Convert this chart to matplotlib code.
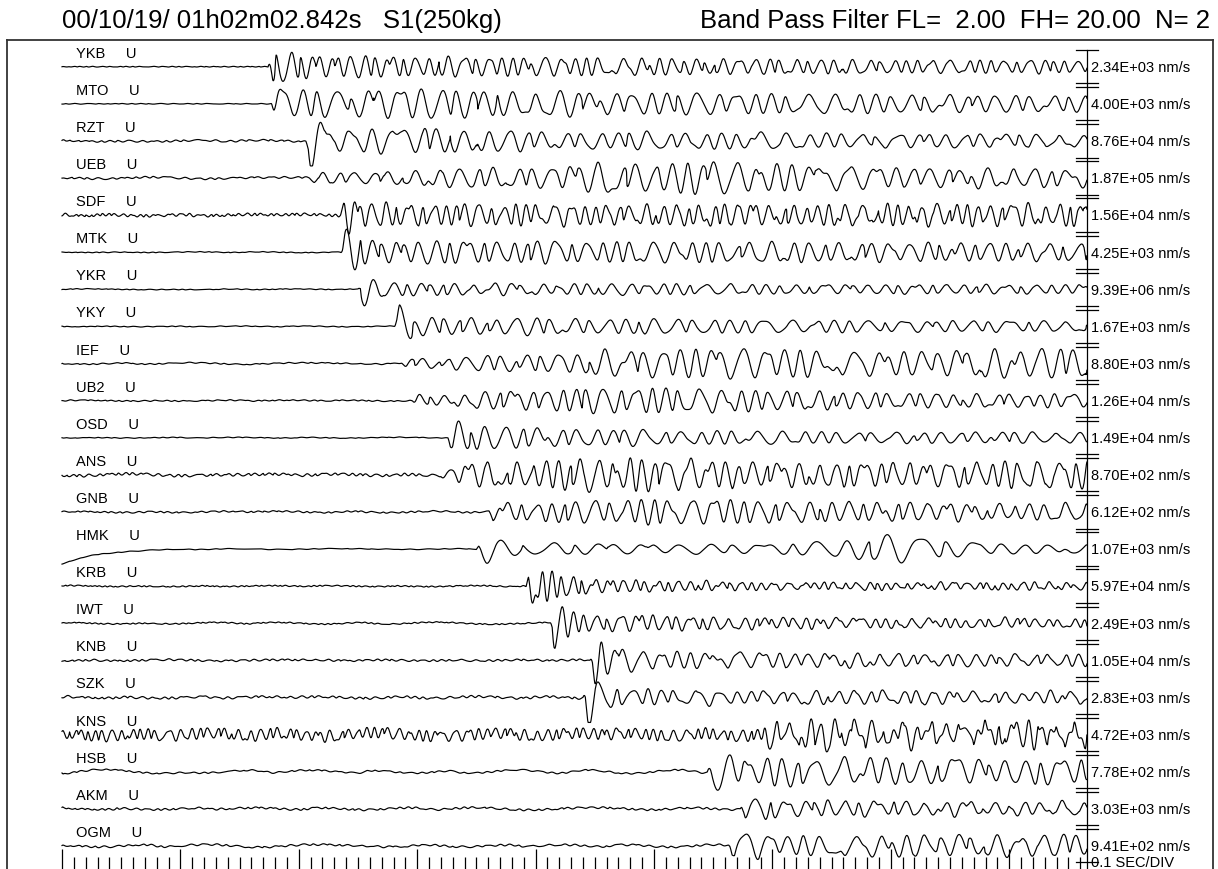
import numpy as np
import matplotlib
matplotlib.use("Agg")
import matplotlib.pyplot as plt

plt.rcParams['font.family'] = ['Liberation Sans', 'DejaVu Sans']

# stations, top to bottom
stations = ['YKB', 'MTO', 'RZT', 'UEB', 'SDF', 'MTK', 'YKR', 'YKY', 'IEF', 'UB2', 'OSD',
            'ANS', 'GNB', 'HMK', 'KRB', 'IWT', 'KNB', 'SZK', 'KNS', 'HSB', 'AKM', 'OGM']
scales = ['2.34E+03', '4.00E+03', '8.76E+04', '1.87E+05', '1.56E+04', '4.25E+03',
          '9.39E+06', '1.67E+03', '8.80E+03', '1.26E+04', '1.49E+04', '8.70E+02',
          '6.12E+02', '1.07E+03', '5.97E+04', '2.49E+03', '1.05E+04', '2.83E+03',
          '4.72E+03', '7.78E+02', '3.03E+03', '9.41E+02']
# first arrival (s from trace start), dominant frequency (Hz)
onsets = [1.74, 1.77, 2.06, 2.09, 2.35, 2.35, 2.50, 2.81, 2.87, 2.96, 3.26,
          3.20, 3.60, 3.50, 3.92, 4.12, 4.46, 4.40, 5.92, 5.45, 5.73, 5.64]
freqs = [8.5, 6.0, 6.0, 6.0, 9.0, 7.0, 7.0, 6.0, 6.0, 7.0, 6.0,
         7.5, 7.0, 4.0, 10.0, 9.0, 7.0, 7.0, 7.5, 6.0, 7.0, 6.0]
# size of the first burst (in half scale-bar units) and its decay (s)
bursts = [1.0, 1.0, 0.9, 0.3, 1.0, 1.0, 0.5, 0.95, 0.25, 0.35, 1.0,
          0.3, 0.6, 0.5, 1.0, 0.8, 0.9, 0.8, 0.45, 1.0, 0.9, 1.0]
burst_len = [0.6, 0.4, 0.3, 0.3, 0.5, 0.5, 0.15, 0.3, 0.2, 0.3, 0.6,
             0.2, 0.4, 0.3, 0.5, 0.35, 0.6, 0.6, 0.3, 0.8, 0.35, 0.5]
# first cycle of the arrival (signed, + is up first)
pulses = [0, 0.4, -1.1, 0, 0.5, 0.4, -1.5, 0.5, 0, 0, 0.4,
          0, 0, -0.5, -0.6, -1.2, -0.7, -0.9, 0, 0, 0.6, 0.6]
# coda envelope at t = 0, 1, ..., 9 s
coda = [
    [0, 0.6, 0.6, 0.55, 0.5, 0.45, 0.4, 0.35, 0.35, 0.35],
    [0, 0.7, 0.75, 0.8, 0.7, 0.6, 0.55, 0.5, 0.45, 0.45],
    [0, 0.5, 0.5, 0.7, 0.5, 0.45, 0.45, 0.35, 0.35, 0.35],
    [0, 0.2, 0.2, 0.4, 0.6, 0.9, 0.8, 0.55, 0.5, 0.5],
    [0, 0.6, 0.6, 0.6, 0.55, 0.55, 0.55, 0.55, 0.6, 0.6],
    [0, 0.6, 0.6, 0.6, 0.6, 0.55, 0.55, 0.5, 0.5, 0.5],
    [0, 0.35, 0.35, 0.35, 0.3, 0.3, 0.25, 0.25, 0.25, 0.25],
    [0, 0.5, 0.5, 0.5, 0.45, 0.4, 0.35, 0.3, 0.3, 0.3],
    [0, 0.25, 0.25, 0.25, 0.5, 0.8, 0.8, 0.6, 0.8, 0.8],
    [0, 0.2, 0.2, 0.25, 0.6, 0.7, 0.55, 0.4, 0.35, 0.35],
    [0, 0.5, 0.5, 0.5, 0.55, 0.4, 0.35, 0.3, 0.3, 0.3],
    [0, 0.3, 0.3, 0.35, 0.8, 0.9, 0.65, 0.6, 0.7, 0.7],
    [0, 0.4, 0.4, 0.4, 0.5, 0.7, 0.6, 0.5, 0.45, 0.45],
    [0, 0.35, 0.35, 0.35, 0.35, 0.25, 0.25, 0.75, 0.25, 0.25],
    [0, 0.4, 0.4, 0.4, 0.4, 0.3, 0.2, 0.2, 0.2, 0.2],
    [0, 0.5, 0.5, 0.5, 0.5, 0.4, 0.3, 0.25, 0.25, 0.25],
    [0, 0.5, 0.5, 0.5, 0.5, 0.5, 0.4, 0.35, 0.3, 0.3],
    [0, 0.5, 0.5, 0.5, 0.5, 0.4, 0.35, 0.35, 0.3, 0.3],
    [0, 0.3, 0.3, 0.3, 0.3, 0.3, 0.7, 0.6, 0.55, 0.6],
    [0, 0.6, 0.6, 0.6, 0.6, 0.6, 0.75, 0.7, 0.65, 0.6],
    [0, 0.5, 0.5, 0.5, 0.5, 0.5, 0.45, 0.4, 0.35, 0.35],
    [0, 0.5, 0.5, 0.5, 0.5, 0.5, 0.5, 0.55, 0.6, 0.5],
]
# background noise, long-period swell and the start-up drift
noise = [0.02, 0.02, 0.05, 0.05, 0.07, 0.02, 0.02, 0.02, 0.03, 0.03, 0.02,
         0.07, 0.04, 0.02, 0.03, 0.03, 0.05, 0.06, 0.30, 0.04, 0.05, 0.05]
swell = [0, 0, 0.04, 0.04, 0.05, 0.02, 0.02, 0.02, 0.04, 0.03, 0.02,
         0.05, 0.04, 0.02, 0.03, 0.05, 0.03, 0.05, 0.10, 0.10, 0.06, 0.07]
drift = [0, 0, 0, 0, 0, 0, 0, 0, 0, 0, 0, 0, 0, -0.9, 0, 0, 0, 0, 0, 0, 0, 0]

ratios = [0.55, 0.72, 0.86, 1.0, 1.13, 1.31, 1.52]

T_END = 8.657      # scale bar position (s)
HALF = 0.45        # half scale bar in trace units
t = np.arange(0, T_END, 0.004)


def carrier(tt, f0, seed):
    s = np.zeros_like(tt)
    for k, r in enumerate(ratios):
        ph = ((k + 1) * (seed + 3) * 2.399963) % (2 * np.pi)
        s += np.sin(2 * np.pi * f0 * r * tt + ph)
    # even out the beating so the wiggles keep a steady size
    n = len(s)
    h = np.zeros(n)
    h[0] = 1
    h[1:(n + 1) // 2] = 2
    if n % 2 == 0:
        h[n // 2] = 1
    e = np.abs(np.fft.ifft(np.fft.fft(s) * h))
    return s / (e ** 0.8 * e.mean() ** 0.2)


def trace(i):
    t0 = onsets[i]
    f = freqs[i]
    c = np.interp(t, np.arange(len(coda[i])), coda[i])
    b = bursts[i] * np.exp(-np.clip(t - t0 - 0.08, 0, None) / burst_len[i])
    env = np.maximum(c, b) * np.clip((t - t0) / 0.04, 0, 1)
    w = env * carrier(t, f, i)
    w += noise[i] * carrier(t, f * 1.6, i + 40)
    w += swell[i] * carrier(t, 1.1, i + 80)
    w += drift[i] * np.exp(-t / 0.3)
    ph = (t - t0 - 0.02) * f * 1.1
    inside = (ph > 0) & (ph < 1.5)
    w[inside] += pulses[i] * np.sin(2 * np.pi * ph[inside]) * np.exp(-1.2 * ph[inside])
    return np.clip(w, -1.5, 1.5)


fig = plt.figure(figsize=(12.18, 8.7), dpi=100)
ax = fig.add_axes([7 / 1218, 1 - 890 / 870, 1206 / 1218, (890 - 41) / 870])
ax.set_xlim((7 - 62) / 118.4, (1213 - 62) / 118.4)
ax.set_ylim((890 - 67.7) / 37.1, (41 - 67.7) / 37.1)
ax.set_xticks([])
ax.set_yticks([])
for s in ax.spines.values():
    s.set_color('#333333')
    s.set_linewidth(1.3)

for i, name in enumerate(stations):
    ax.plot(t, i - HALF * trace(i), color='black', lw=0.85)
    ax.text(0.118, i - 0.375, f'{name}     U', fontsize=10.5, va='center', ha='left')
    ax.text(T_END + 0.035, i + 0.01, f'{scales[i]} nm/s', fontsize=10.5, va='center', ha='left')
    for yy in (i - HALF, i + HALF):
        ax.plot([T_END - 0.093, T_END + 0.093], [yy, yy], color='black', lw=0.9)

n = len(stations)
ax.plot([T_END, T_END], [-HALF, n + 1], color='black', lw=0.9)
ax.text(T_END + 0.035, n - 1 + HALF, '0.1 SEC/DIV', fontsize=10.5, va='center', ha='left')

# time ruler
major = np.arange(0, 9)
minor = np.array([m / 10 for m in range(0, 87) if m % 10 != 0])
ax.vlines(major, 21.09, 23, color='black', lw=0.9)
ax.vlines(minor, 21.3, 23, color='black', lw=0.9)

fig.text(62 / 1218, 1 - 21 / 870, '00/10/19/ 01h02m02.842s   S1(250kg)',
         fontsize=18.5, va='center', ha='left')
fig.text(1210 / 1218, 1 - 21 / 870, 'Band Pass Filter FL=  2.00  FH= 20.00  N= 2',
         fontsize=18.5, va='center', ha='right')

fig.savefig('out.png', dpi=100)
